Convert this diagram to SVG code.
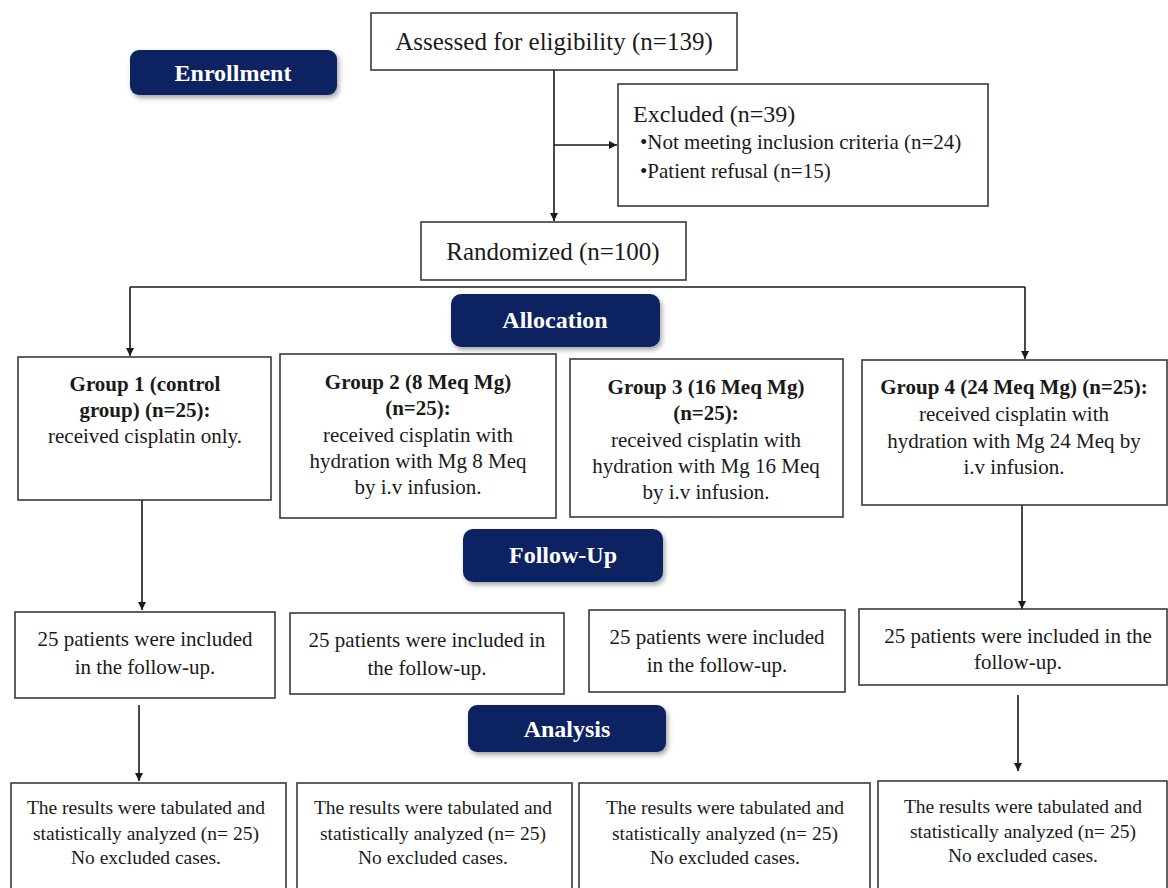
<svg xmlns="http://www.w3.org/2000/svg" width="1168" height="888" viewBox="0 0 1168 888">
<defs>
<style>
.box{fill:#fff;stroke:#3a3a3a;stroke-width:1.6}
.badge{fill:#0c2461}
.bt{font-family:"Liberation Serif",serif;font-weight:bold;font-size:24px;fill:#fff;text-anchor:middle}
.t{font-family:"Liberation Serif",serif;fill:#1a1a1a;text-anchor:middle}
.t25{font-size:25px}
.t24{font-size:24px}
.t21{font-size:21px}
.t195{font-size:19.5px}
.b{font-weight:bold}
.lt{text-anchor:start}
.ln{stroke:#1a1a1a;stroke-width:1.6;fill:none}
</style>
<marker id="ah" viewBox="0 0 10 10" refX="10" refY="5" markerWidth="8" markerHeight="8" markerUnits="userSpaceOnUse" orient="auto">
<path d="M0,0 L10,5 L0,10 z" fill="#1a1a1a"/>
</marker>
<filter id="sh" x="-10%" y="-20%" width="130%" height="160%">
<feDropShadow dx="2" dy="3" stdDeviation="2.5" flood-color="#000" flood-opacity="0.35"/>
</filter>
</defs>
<rect width="1168" height="888" fill="#fff"/>

<g id="connectors">
<line class="ln" x1="554" y1="70" x2="554" y2="221" marker-end="url(#ah)"/>
<line class="ln" x1="554" y1="145" x2="617" y2="145" marker-end="url(#ah)"/>
<line class="ln" x1="130" y1="287" x2="1025" y2="287"/>
<line class="ln" x1="130" y1="287" x2="130" y2="356" marker-end="url(#ah)"/>
<line class="ln" x1="1025" y1="287" x2="1025" y2="359" marker-end="url(#ah)"/>
<line class="ln" x1="142" y1="500" x2="142" y2="610" marker-end="url(#ah)"/>
<line class="ln" x1="1022" y1="505" x2="1022" y2="609" marker-end="url(#ah)"/>
<line class="ln" x1="139" y1="705" x2="139" y2="781" marker-end="url(#ah)"/>
<line class="ln" x1="1018" y1="695" x2="1018" y2="771" marker-end="url(#ah)"/>
</g>

<g id="badge-enrollment">
<rect class="badge" x="130" y="50" width="207" height="45" rx="9" filter="url(#sh)"/>
<text class="bt" x="233" y="81">Enrollment</text>
</g>
<g id="badge-allocation">
<rect class="badge" x="451" y="294" width="209" height="53" rx="10" filter="url(#sh)"/>
<text class="bt" x="555" y="328">Allocation</text>
</g>
<g id="badge-followup">
<rect class="badge" x="463" y="529" width="200" height="53" rx="10" filter="url(#sh)"/>
<text class="bt" x="563" y="563">Follow-Up</text>
</g>
<g id="badge-analysis">
<rect class="badge" x="468" y="705" width="198" height="47" rx="9" filter="url(#sh)"/>
<text class="bt" x="567" y="737">Analysis</text>
</g>

<g id="assessed">
<rect class="box" x="371" y="13" width="366" height="57"/>
<text class="t t25" x="554" y="50">Assessed for eligibility (n=139)</text>
</g>
<g id="excluded">
<rect class="box" x="618" y="84" width="370" height="122"/>
<text class="t t24 lt" x="633" y="122">Excluded (n=39)</text>
<text class="t t21 lt" x="640" y="149">•Not meeting inclusion criteria (n=24)</text>
<text class="t t21 lt" x="640" y="178">•Patient refusal (n=15)</text>
</g>
<g id="randomized">
<rect class="box" x="421" y="222" width="265" height="58"/>
<text class="t t25" x="553" y="260">Randomized (n=100)</text>
</g>

<g id="group1">
<rect class="box" x="18" y="357" width="253" height="143"/>
<text class="t t21 b" x="145" y="391">Group 1 (control</text>
<text class="t t21 b" x="145" y="417">group) (n=25):</text>
<text class="t t21" x="145" y="443">received cisplatin only.</text>
</g>
<g id="group2">
<rect class="box" x="280" y="354" width="276" height="164"/>
<text class="t t21 b" x="418" y="389">Group 2 (8 Meq Mg)</text>
<text class="t t21 b" x="418" y="415">(n=25):</text>
<text class="t t21" x="418" y="442">received cisplatin with</text>
<text class="t t21" x="418" y="468">hydration with Mg 8 Meq</text>
<text class="t t21" x="418" y="494">by i.v infusion.</text>
</g>
<g id="group3">
<rect class="box" x="570" y="359" width="273" height="158"/>
<text class="t t21 b" x="706" y="394">Group 3 (16 Meq Mg)</text>
<text class="t t21 b" x="706" y="420">(n=25):</text>
<text class="t t21" x="706" y="447">received cisplatin with</text>
<text class="t t21" x="706" y="473">hydration with Mg 16 Meq</text>
<text class="t t21" x="706" y="499">by i.v infusion.</text>
</g>
<g id="group4">
<rect class="box" x="862" y="360" width="305" height="145"/>
<text class="t t21 b" x="1014" y="394">Group 4 (24 Meq Mg) (n=25):</text>
<text class="t t21" x="1014" y="421">received cisplatin with</text>
<text class="t t21" x="1014" y="448">hydration with Mg 24 Meq by</text>
<text class="t t21" x="1014" y="474">i.v infusion.</text>
</g>

<g id="followup1">
<rect class="box" x="15" y="612" width="260" height="86"/>
<text class="t t21" x="145" y="646">25 patients were included</text>
<text class="t t21" x="145" y="674">in the follow-up.</text>
</g>
<g id="followup2">
<rect class="box" x="290" y="613" width="274" height="81"/>
<text class="t t21" x="427" y="647">25 patients were included in</text>
<text class="t t21" x="427" y="675">the follow-up.</text>
</g>
<g id="followup3">
<rect class="box" x="589" y="610" width="256" height="82"/>
<text class="t t21" x="717" y="644">25 patients were included</text>
<text class="t t21" x="717" y="672">in the follow-up.</text>
</g>
<g id="followup4">
<rect class="box" x="859" y="609" width="308" height="76"/>
<text class="t t21" x="1018" y="643">25 patients were included in the</text>
<text class="t t21" x="1018" y="669">follow-up.</text>
</g>

<g id="analysis1">
<rect class="box" x="11" y="783" width="275" height="120"/>
<text class="t t195" x="146" y="814">The results were tabulated and</text>
<text class="t t195" x="146" y="840">statistically analyzed (n= 25)</text>
<text class="t t195" x="146" y="864">No excluded cases.</text>
</g>
<g id="analysis2">
<rect class="box" x="297" y="783" width="275" height="120"/>
<text class="t t195" x="433" y="814">The results were tabulated and</text>
<text class="t t195" x="433" y="840">statistically analyzed (n= 25)</text>
<text class="t t195" x="433" y="864">No excluded cases.</text>
</g>
<g id="analysis3">
<rect class="box" x="579" y="783" width="291" height="120"/>
<text class="t t195" x="725" y="814">The results were tabulated and</text>
<text class="t t195" x="725" y="840">statistically analyzed (n= 25)</text>
<text class="t t195" x="725" y="864">No excluded cases.</text>
</g>
<g id="analysis4">
<rect class="box" x="878" y="781" width="289" height="120"/>
<text class="t t195" x="1023" y="813">The results were tabulated and</text>
<text class="t t195" x="1023" y="838">statistically analyzed (n= 25)</text>
<text class="t t195" x="1023" y="862">No excluded cases.</text>
</g>
</svg>
